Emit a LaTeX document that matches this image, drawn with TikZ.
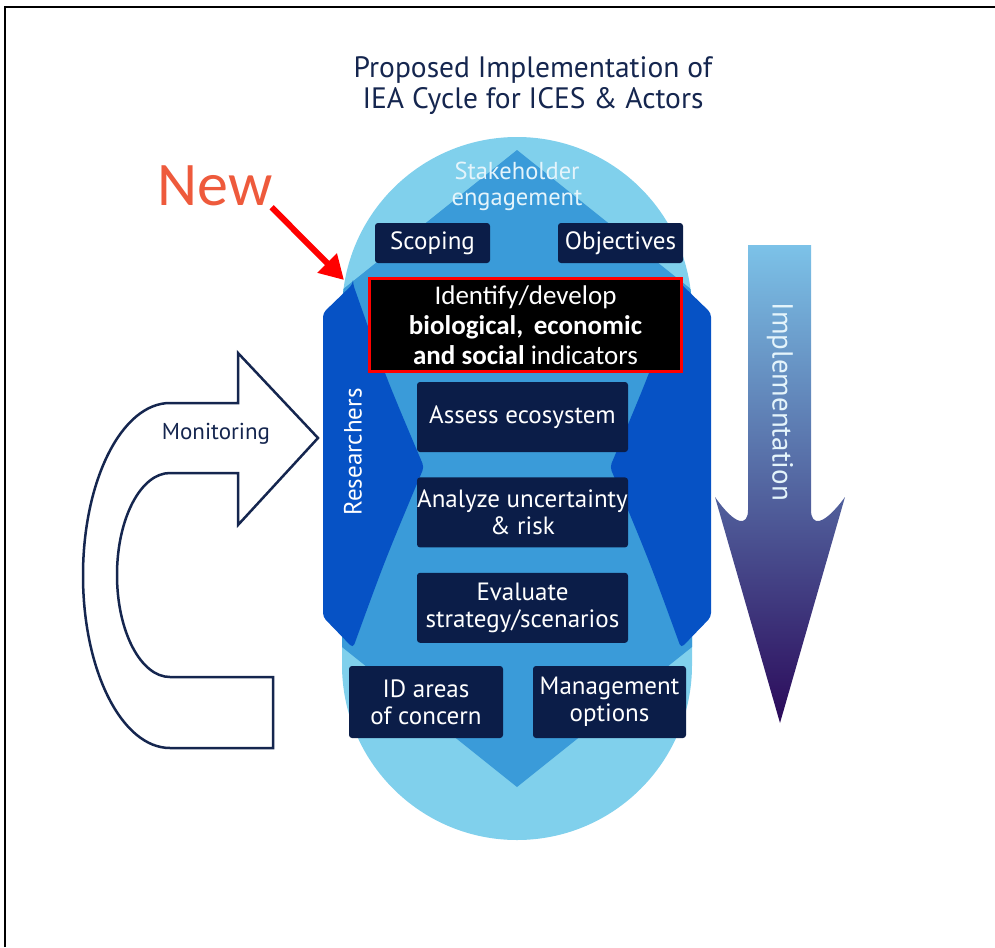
\documentclass[tikz,border=0pt]{standalone}
\usepackage{fontspec}
\setmainfont{PT Sans}
\newfontfamily\calibri{Carlito}
\usepackage{tikz}
\usetikzlibrary{arrows.meta, positioning}
\definecolor{lightsky}{RGB}{128,208,236}
\definecolor{midsky}{RGB}{58,155,217}
\definecolor{wingblue}{RGB}{6,82,197}
\definecolor{navybox}{RGB}{11,29,72}
\definecolor{titlenavy}{RGB}{21,38,79}
\definecolor{paletext}{RGB}{228,244,251}
\definecolor{newred}{RGB}{238,90,60}
\definecolor{impltop}{RGB}{124,194,232}
\definecolor{implbottom}{RGB}{43,10,90}
\tikzset{
  box/.style={fill=navybox, text=white, rounded corners=3pt, align=center,
    inner sep=0pt, font=\fontsize{25}{27}\selectfont},
  wing/.style={fill=wingblue, rounded corners=4pt},
  newarrow/.style={-{Triangle[length=24pt,width=26pt]}, line width=6pt, red},
  every node/.style={align=center}
}

\begin{document}
\begin{tikzpicture}[x=1pt, y=-1pt]
    \useasboundingbox (0,0) rectangle (995,947);
    \draw[line width=2pt] (5,947) -- (5,7) -- (995,7);

    % light oval, mid blue diamond, researcher wings
    \fill[lightsky] (342,312) arc[start angle=180, end angle=360, radius=175]
      -- (692,665) arc[start angle=0, end angle=180, radius=175] -- cycle;
    \begin{scope}
      \clip (342,312) arc[start angle=180, end angle=360, radius=175]
        -- (692,665) arc[start angle=0, end angle=180, radius=175] -- cycle;
      \fill[midsky] (517,150) -- (717,310) -- (717,627) -- (517,787)
        -- (317,627) -- (317,310) -- cycle;
    \end{scope}
    \fill[wing] (353,284) -- (323,313) -- (323,617) -- (353,648)
      .. controls (385,560) .. (424,467) .. controls (385,375) .. cycle;
    \fill[wing] (681,284) -- (711,313) -- (711,617) -- (681,648)
      .. controls (649,560) .. (610,467) .. controls (649,375) .. cycle;

    % implementation arrow
    \shade[top color=impltop, bottom color=implbottom]
      (748,245) -- (748,510) .. controls (748,526) and (736,527) .. (715,497)
      -- (780,723) -- (845,497) .. controls (823,527) and (811,526) .. (811,510)
      -- (811,245) -- cycle;

    % monitoring arrow
    \draw[titlenavy, line width=2.5pt, fill=white, line join=miter]
      (170,403) -- (238,403) -- (238,353) -- (318,438) -- (238,525)
      -- (238,473) -- (170,473)
      arc[start angle=-90, end angle=-270, x radius=53, y radius=102]
      -- (273,677) -- (273,748) -- (170,748)
      arc[start angle=90, end angle=270, x radius=87, y radius=172.5] -- cycle;

    \node[text=titlenavy, font=\fontsize{29.5}{31}\selectfont] (title) at (533,86)
      {Proposed Implementation of\\IEA Cycle for ICES \& Actors};
    \node[text=paletext, font=\fontsize{24.5}{26}\selectfont] (stake) at (517,186)
      {Stakeholder\\engagement};
    \node[box, minimum width=115pt, minimum height=40pt] (scoping) at (432.5,243) {Scoping};
    \node[box, minimum width=125pt, minimum height=40pt] (objectives) at (620.5,243) {Objectives};
    \node[fill=black, draw=red, line width=3pt, text=white, minimum width=312pt,
      minimum height=93pt, inner sep=0pt, font=\calibri\fontsize{27}{30}\selectfont]
      (indicators) at (525.5,325)
      {Identify/develop\\\textbf{biological,\, economic}\\\textbf{and social} indicators};
    \node[box, minimum width=211pt, minimum height=70pt] (assess) at (522.5,417) {Assess ecosystem};
    \node[box, minimum width=211pt, minimum height=70pt, below=25pt of assess] (analyze)
      {Analyze uncertainty\\\& risk};
    \node[box, minimum width=211pt, minimum height=70pt, below=25pt of analyze] (evaluate)
      {Evaluate\\strategy/scenarios};
    \node[box, minimum width=154pt, minimum height=72pt] (idareas) at (426,702) {ID areas\\of concern};
    \node[box, minimum width=153pt, minimum height=72pt] (management) at (609.5,702)
      {Management\\options};
    \node[text=white, rotate=90, font=\fontsize{25}{27}\selectfont] (researchers) at (353,452)
      {Researchers};
    \node[text=paletext, rotate=-90, font=\fontsize{29}{31}\selectfont] (implementation)
      at (780,402) {Implementation};
    \node[text=titlenavy, font=\fontsize{23}{25}\selectfont] (monitoring) at (216,434) {Monitoring};

    \node[text=newred, inner sep=1pt, font=\calibri\fontsize{62}{64}\selectfont] (new) at (215,186) {New};
    \coordinate (newtip) at (344,280);
    \draw[newarrow] ([xshift=-2pt]new.south east) -- (newtip);
\end{tikzpicture}
\end{document}
